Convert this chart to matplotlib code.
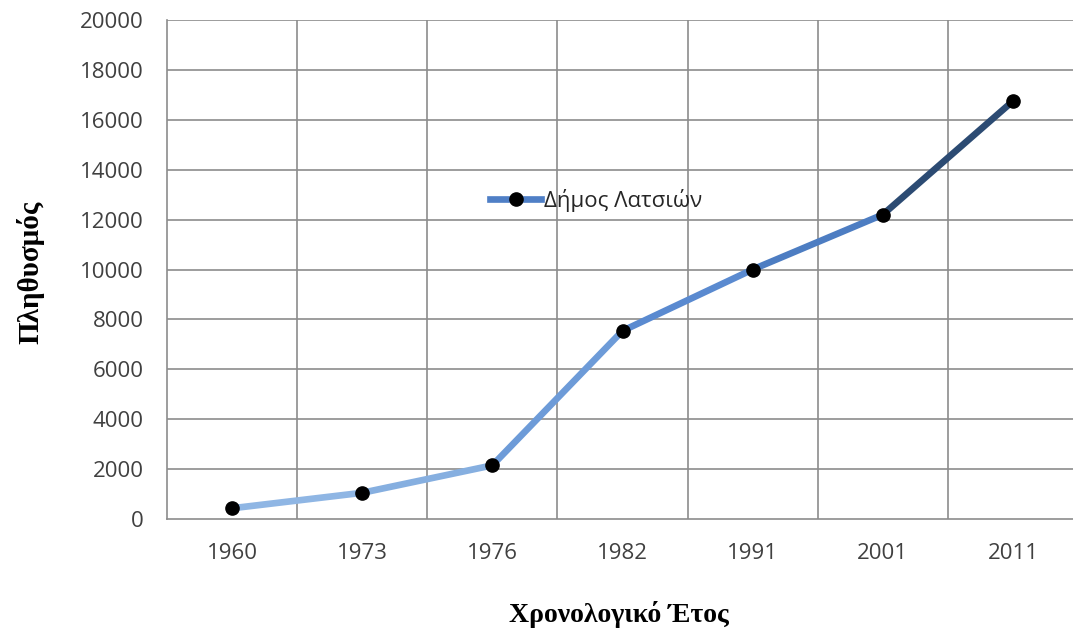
import matplotlib
matplotlib.use("Agg")
import matplotlib.pyplot as plt
import numpy as np
from matplotlib.collections import LineCollection
from matplotlib.lines import Line2D

years = ["1960", "1973", "1976", "1982", "1991", "2001", "2011"]
population = [430, 1050, 2150, 7540, 10000, 12200, 16750]
segment_colors = ["#8fb6e4", "#86afe0", "#6d9bd8", "#5a8ad0", "#4d7dc2", "#2c4b73"]
series_name = "Δήμος Λατσιών"
x_label = "Χρονολογικό Έτος"
y_label = "Πληθυσμός"
y_ticks = [0, 2000, 4000, 6000, 8000, 10000, 12000, 14000, 16000, 18000, 20000]

W, H = 1073, 632
fig = plt.figure(figsize=(W / 100, H / 100), dpi=100)
left, right, top, bottom = 167, 1078, 20, 519
ax = fig.add_axes([left / W, 1 - bottom / H, (right - left) / W, (bottom - top) / H])

tick_font = "Open Sans"
grid_c = "#8c8c8c"
fs = 16

x = np.arange(len(years))
pts = np.column_stack([x, population])
segs = np.stack([pts[:-1], pts[1:]], axis=1)
lc = LineCollection(segs, colors=segment_colors, linewidths=4.8, capstyle="round",
                    joinstyle="round", zorder=3)
ax.add_collection(lc)
ax.plot(x, population, linestyle="none", marker="o", markersize=9.5,
        color="black", zorder=4)

ax.set_xlim(-0.5, len(years) - 0.5)
ax.set_ylim(0, 20000)
ax.set_yticks(y_ticks)
ax.set_yticklabels([str(v) for v in y_ticks], fontfamily=tick_font, fontsize=fs, color="#404040")
ax.set_xticks(x)
ax.set_xticklabels(years, fontfamily=tick_font, fontsize=fs, color="#404040")
ax.tick_params(axis="both", length=0)
ax.tick_params(axis="y", pad=17)
ax.tick_params(axis="x", pad=17)

# gridlines
for yv in y_ticks[1:]:
    ax.axhline(yv, color=grid_c, linewidth=1.2, zorder=1)
for xv in np.arange(0.5, len(years) - 0.5, 1.0):
    ax.axvline(xv, color=grid_c, linewidth=1.2, zorder=1)
for s in ["top", "right"]:
    ax.spines[s].set_visible(False)
for s in ["left", "bottom"]:
    ax.spines[s].set_color(grid_c)
    ax.spines[s].set_linewidth(1.2)

handle = Line2D([0], [0], color="#4f7fc6", linewidth=4.8, marker="o",
                markersize=9.5, markerfacecolor="black", markeredgecolor="black")
leg = ax.legend([handle], [series_name], loc="center",
                bbox_to_anchor=(0.471, 0.639), frameon=False,
                prop={"family": tick_font, "size": fs}, handlelength=2.3,
                handletextpad=0.1, borderpad=0)
for t in leg.get_texts():
    t.set_color("#262626")

fig.text(619 / W, 1 - 614 / H, x_label, ha="center", va="center",
         fontfamily="Liberation Serif", fontweight="bold", fontsize=20)
fig.text(30 / W, 1 - 272 / H, y_label, ha="center", va="center", rotation=90,
         fontfamily="Liberation Serif", fontweight="bold", fontsize=21)

fig.savefig("out.png", dpi=100)
